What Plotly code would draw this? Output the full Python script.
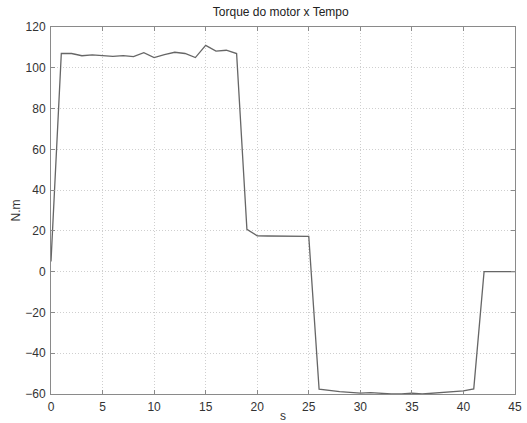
import plotly.graph_objects as go

# Motor torque sampled once per second
tempo = list(range(0, 46))
torque = [
    5, 107, 107, 105.9, 106.3, 106, 105.6, 106, 105.5, 107.4,
    105, 106.5, 107.6, 107, 105, 111, 108.2, 108.6, 107, 20.8,
    17.6, 17.5, 17.5, 17.5, 17.4, 17.3, -57.6, -58.3, -58.8, -59.2,
    -59.6, -59.3, -59.8, -60, -60, -59.6, -60, -59.6, -59.3, -59,
    -58.5, -57.5, 0, 0, 0, 0,
]

x_ticks = list(range(0, 46, 5))
y_ticks = list(range(-60, 121, 20))

FONT = "Liberation Sans, Arial, sans-serif"

fig = go.Figure(
    go.Scatter(
        x=tempo,
        y=torque,
        mode="lines",
        line=dict(color="#666666", width=1.3),
        showlegend=False,
    )
)

axis_common = dict(
    showline=True,
    linecolor="#8a8a8a",
    linewidth=1,
    mirror="ticks",
    ticks="inside",
    ticklen=4,
    tickcolor="#8a8a8a",
    showgrid=True,
    gridcolor="#cfcfcf",
    griddash="1px,2px",
    gridwidth=1,
    zeroline=False,
    automargin=False,
    tickfont=dict(family=FONT, size=12, color="#333333"),
)

fig.update_xaxes(
    range=[0, 45],
    tickvals=x_ticks,
    ticklabelstandoff=2,
    title=dict(text="s", standoff=0, font=dict(family=FONT, size=12, color="#333333")),
    **axis_common,
)
fig.update_yaxes(
    range=[-60, 120],
    tickvals=y_ticks,
    ticklabelstandoff=2,
    title=dict(text="N.m", standoff=2, font=dict(family=FONT, size=12, color="#333333")),
    **axis_common,
)

fig.update_layout(
    width=527,
    height=423,
    margin=dict(l=51, r=12, t=27, b=29),
    paper_bgcolor="white",
    plot_bgcolor="white",
    title=dict(
        text="Torque do motor x Tempo",
        x=0.5328,
        xanchor="center",
        y=0.972,
        yanchor="middle",
        font=dict(family=FONT, size=12, color="#222222"),
    ),
)

fig.write_html("out.html")
